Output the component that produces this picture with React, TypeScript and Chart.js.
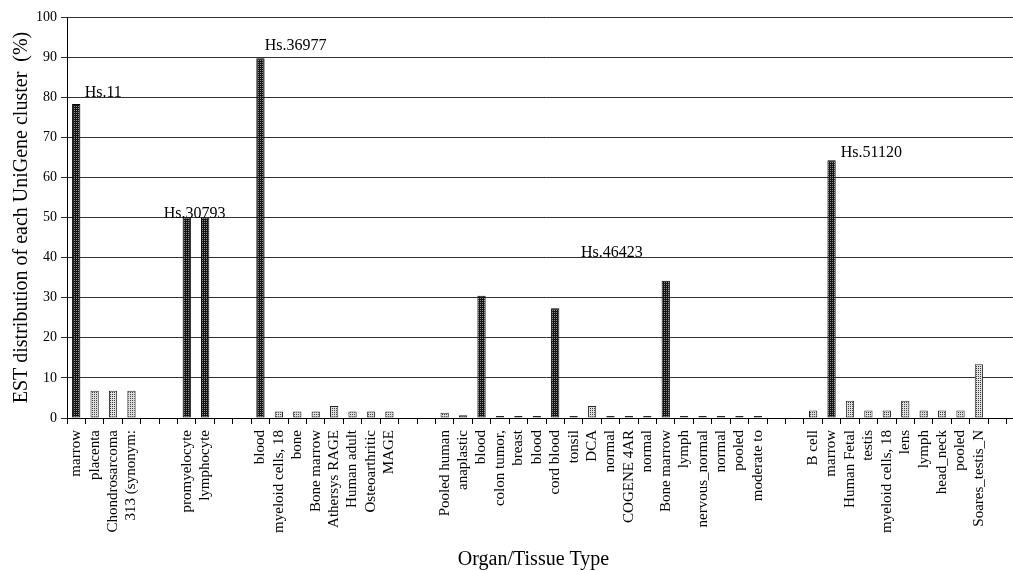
import React, { useEffect, useRef } from "react";
import { Chart, registerables } from "chart.js";

Chart.register(...registerables);

const categories: string[] = [
  "marrow", "placenta", "Chondrosarcoma", "313 (synonym:", "", "",
  "promyelocyte", "lymphocyte", "", "",
  "blood", "myeloid cells, 18", "bone", "Bone marrow", "Athersys RAGE", "Human adult", "Osteoarthritic", "MAGE", "", "",
  "Pooled human", "anaplastic", "blood", "colon tumor,", "breast", "blood", "cord blood", "tonsil", "DCA", "normal",
  "COGENE 4AR", "normal", "Bone marrow", "lymph", "nervous_normal", "normal", "pooled", "moderate to", "", "",
  "B cell", "marrow", "Human Fetal", "testis", "myeloid cells, 18", "lens", "lymph", "head_neck", "pooled", "Soares_testis_N",
  "", "",
];

const estPercent: (number | null)[] = [
  78.3, 6.8, 6.8, 6.8, null, null,
  50, 50, null, null,
  89.7, 1.6, 1.6, 1.6, 3.0, 1.6, 1.6, 1.6, null, null,
  1.3, 0.7, 30.5, 0.2, 0.2, 0.2, 27.4, 0.2, 3.0, 0.2,
  0.2, 0.2, 34.2, 0.2, 0.2, 0.2, 0.2, 0.2, null, null,
  1.9, 64.3, 4.3, 1.9, 1.9, 4.3, 1.9, 1.9, 1.9, 13.4,
  null, null,
];

const clusterNames: string[] = ["Hs.11", "Hs.30793", "Hs.36977", "Hs.46423", "Hs.51120"];
const clusterLabelIndex: number[] = [0.46, 4.75, 10.23, 27.4, 41.5];
const clusterLabelValue: number[] = [80.1, 50, 91.8, 40.1, 65];

const yTicks: number[] = [0, 10, 20, 30, 40, 50, 60, 70, 80, 90, 100];

const SERIF = '"Liberation Serif", "Times New Roman", serif';

export default function App() {
  const canvasRef = useRef<HTMLCanvasElement | null>(null);

  useEffect(() => {
    document.body.style.margin = "0";
    document.body.style.overflow = "hidden";
    const canvas = canvasRef.current;
    if (!canvas) return;
    const ctx = canvas.getContext("2d")!;

    const makePattern = (bg: string, dot: string) => {
      const c = document.createElement("canvas");
      c.width = 2;
      c.height = 2;
      const g = c.getContext("2d")!;
      g.fillStyle = bg;
      g.fillRect(0, 0, 2, 2);
      g.fillStyle = dot;
      g.fillRect(0, 0, 1, 1);
      return ctx.createPattern(c, "repeat")!;
    };
    const darkPat = makePattern("#141414", "#909090");
    const lightPat = makePattern("#e0e0e0", "#3c3c3c");

    const bg = estPercent.map((v) => (v !== null && v >= 20 ? darkPat : lightPat));
    const bc = estPercent.map((v) => (v !== null && v >= 20 ? "#000000" : "#262626"));

    const labelPlugin = {
      id: "clusterLabels",
      afterDatasetsDraw(chart: any) {
        const c = chart.ctx;
        const xs = chart.scales.x;
        const ys = chart.scales.y;
        c.save();
        c.font = `16px ${SERIF}`;
        c.fillStyle = "#000";
        c.textAlign = "left";
        c.textBaseline = "alphabetic";
        clusterNames.forEach((name, i) => {
          c.fillText(name, xs.getPixelForValue(clusterLabelIndex[i]), ys.getPixelForValue(clusterLabelValue[i]));
        });
        c.restore();
      },
    };

    const xTitlePlugin = {
      id: "xTitle",
      afterDraw(chart: any) {
        const c = chart.ctx;
        const a = chart.chartArea;
        c.save();
        c.font = `20px ${SERIF}`;
        c.fillStyle = "#000";
        c.textAlign = "center";
        c.textBaseline = "alphabetic";
        c.fillText("Organ/Tissue Type", a.left + a.width * 0.487, chart.height - 6);
        c.restore();
      },
    };

    const chart = new Chart(ctx, {
      type: "bar",
      data: {
        labels: categories,
        datasets: [
          {
            data: estPercent,
            backgroundColor: bg,
            borderColor: bc,
            borderWidth: 1,
            borderSkipped: false,
            minBarLength: 2,
            barPercentage: 0.45,
            categoryPercentage: 1,
          },
        ],
      },
      options: {
        responsive: false,
        animation: false,
        layout: { padding: { top: 17, right: 1, left: 0, bottom: 0 } },
        plugins: {
          legend: { display: false },
          tooltip: { enabled: false },
          title: { display: false },
        },
        scales: {
          x: {
            offset: true,
            grid: {
              offset: true,
              drawOnChartArea: false,
              drawTicks: true,
              tickLength: 6,
              color: "#000",
            },
            border: { color: "#000", width: 1 },
            ticks: {
              autoSkip: false,
              maxRotation: 90,
              minRotation: 90,
              padding: 6,
              color: "#000",
              font: { family: SERIF, size: 15 },
            },
            afterFit: (scale: any) => {
              scale.height = 153;
              scale.paddingLeft = 0;
              scale.paddingRight = 0;
            },
          },
          y: {
            min: 0,
            max: 100,
            afterBuildTicks: (scale: any) => {
              scale.ticks = yTicks.map((v) => ({ value: v }));
            },
            grid: {
              color: "#333",
              lineWidth: 1,
              tickLength: 6,
            },
            border: { color: "#000", width: 1 },
            ticks: {
              color: "#000",
              padding: 4,
              font: { family: SERIF, size: 14 },
            },
            title: {
              display: true,
              text: "EST distribution of each UniGene cluster  (%)",
              color: "#000",
              font: { family: SERIF, size: 20 },
              padding: { top: 10, bottom: 0 },
            },
            afterFit: (scale: any) => {
              scale.width = 67;
            },
          },
        },
      },
      plugins: [labelPlugin, xTitlePlugin],
    });

    return () => chart.destroy();
  }, []);

  return (
    <div style={{ position: "absolute", left: 0, top: 0, width: 1013, height: 571, overflow: "hidden", background: "#fff" }}>
      <canvas ref={canvasRef} width={1026} height={571} style={{ display: "block" }} />
    </div>
  );
}
